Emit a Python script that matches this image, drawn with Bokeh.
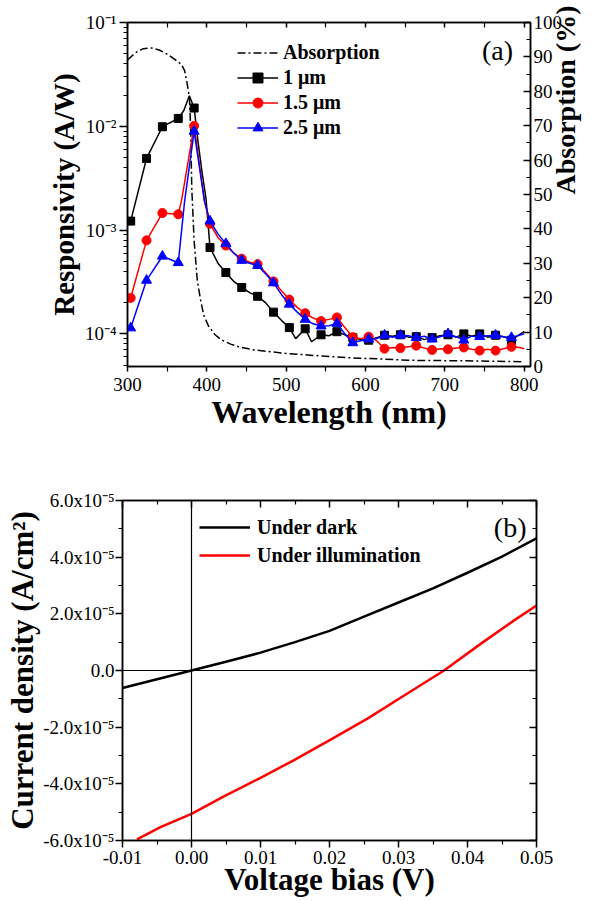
import math
from bokeh.plotting import figure
from bokeh.models import (Range1d, LinearAxis, FixedTicker, LogTicker, CustomJSTickFormatter,
                          Legend, LegendItem, Label, Span, LinearScale)
from bokeh.layouts import column, row
from bokeh.embed import file_html
from bokeh.resources import INLINE

FONT = "Liberation Serif"

# ---------------- data: panel (a) ----------------
wl_abs = [300, 310, 320, 330, 340, 350, 360, 368, 372, 375, 378, 379.5, 381, 382.5, 384,
          388, 392, 396, 402, 410, 418, 430, 442, 460, 480, 500, 530, 560, 592, 620, 655,
          700, 743, 800]
absorption = [89.1, 91.2, 92.4, 92.6, 92.0, 90.8, 89.2, 87.8, 86.0, 82.5, 78.2, 70.0, 52.0,
              44.0, 36.5, 25.0, 19.5, 15.0, 11.8, 9.3, 7.8, 6.5, 5.6, 4.8, 4.3, 3.8, 3.3,
              2.8, 2.4, 2.2, 1.8, 1.7, 1.6, 1.4]

wl_1um = [304, 324, 344, 364, 371, 378, 384, 389, 394, 399, 404, 414, 424, 434, 444, 454,
          464, 474, 484, 494, 504, 512, 524, 532, 544, 554, 564, 574, 584, 594, 604, 614,
          624, 634, 644, 654, 664, 674, 684, 694, 704, 714, 724, 734, 744, 754, 764, 774,
          784, 792, 800]
resp_1um = [1.22e-3, 4.9e-3, 9.9e-3, 1.19e-2, 1.42e-2, 1.97e-2, 1.5e-2, 7.0e-3, 3.6e-3,
            2.0e-3, 6.8e-4, 4.8e-4, 3.9e-4, 3.2e-4, 2.8e-4, 2.5e-4, 2.3e-4, 2.0e-4, 1.62e-4,
            1.35e-4, 1.15e-4, 9.0e-5, 1.12e-4, 8.4e-5, 9.8e-5, 9.6e-5, 1.05e-4, 9.8e-5,
            9.2e-5, 8.8e-5, 8.7e-5, 9.2e-5, 9.7e-5, 9.5e-5, 9.8e-5, 9.3e-5, 9.4e-5, 8.8e-5,
            9.2e-5, 9.6e-5, 9.8e-5, 9.3e-5, 1.0e-4, 9.5e-5, 1.0e-4, 9.3e-5, 9.7e-5, 9.4e-5,
            8.7e-5, 9.6e-5, 1.05e-4]

wl_15um = [304, 324, 344, 364, 368, 384, 397, 404, 414, 424, 434, 444, 454, 464, 474, 484,
           494, 504, 514, 524, 534, 544, 554, 564, 574, 584, 594, 604, 614, 624, 634, 644,
           654, 664, 674, 684, 694, 704, 714, 724, 734, 744, 754, 764, 774, 784, 794, 800]
resp_15um = [2.22e-4, 7.96e-4, 1.46e-3, 1.42e-3, 1.9e-3, 1.01e-2, 1.9e-3, 1.15e-3, 8.5e-4,
             7.1e-4, 6.0e-4, 5.3e-4, 4.9e-4, 4.7e-4, 3.9e-4, 3.2e-4, 2.6e-4, 2.14e-4,
             1.8e-4, 1.58e-4, 1.42e-4, 1.33e-4, 1.38e-4, 1.44e-4, 1.15e-4, 9.3e-5, 9.0e-5,
             9.4e-5, 8.6e-5, 7.2e-5, 7.4e-5, 7.3e-5, 7.5e-5, 7.7e-5, 7.3e-5, 7.0e-5, 7.2e-5,
             7.1e-5, 7.3e-5, 7.4e-5, 7.1e-5, 6.9e-5, 7.1e-5, 6.9e-5, 7.2e-5, 7.5e-5, 7.4e-5,
             7.2e-5]

wl_25um = [304, 324, 344, 364, 372, 384, 397, 404, 414, 424, 434, 444, 454, 464, 474, 484,
           494, 504, 514, 524, 534, 544, 554, 564, 574, 584, 594, 604, 614, 624, 634, 644,
           654, 664, 674, 684, 694, 704, 714, 724, 734, 744, 754, 764, 774, 784, 794, 800]
resp_25um = [1.14e-4, 3.28e-4, 5.6e-4, 4.85e-4, 1.9e-3, 8.95e-3, 1.9e-3, 1.22e-3, 9.2e-4,
             7.4e-4, 6.0e-4, 5.1e-4, 4.8e-4, 4.55e-4, 3.8e-4, 3.1e-4, 2.4e-4, 1.93e-4,
             1.62e-4, 1.38e-4, 1.25e-4, 1.19e-4, 1.2e-4, 1.26e-4, 1.0e-4, 8.2e-5, 8.6e-5,
             8.9e-5, 9.0e-5, 9.7e-5, 9.3e-5, 9.7e-5, 9.6e-5, 9.2e-5, 9.5e-5, 8.9e-5, 9.4e-5,
             1.0e-4, 9.4e-5, 8.7e-5, 9.5e-5, 9.4e-5, 9.6e-5, 9.7e-5, 9.4e-5, 9.2e-5, 9.7e-5,
             1.0e-4]

marker_first, marker_step, marker_last = 304, 20, 784

x_ticks_a = [300, 400, 500, 600, 700, 800]
x_minor_a = [350, 450, 550, 650, 750]
abs_ticks = [0, 10, 20, 30, 40, 50, 60, 70, 80, 90, 100]
abs_minor = [5, 15, 25, 35, 45, 55, 65, 75, 85, 95]

legend_a = ["Absorption", "1 \u03bcm", "1.5 \u03bcm", "2.5 \u03bcm"]

# ---------------- data: panel (b) ----------------
v_dark = [-0.01, -0.005, 0.0, 0.005, 0.01, 0.015, 0.02, 0.025, 0.03, 0.035, 0.04, 0.045, 0.05]
j_dark = [-0.62e-5, -0.31e-5, 0.0, 0.31e-5, 0.63e-5, 1.0e-5, 1.4e-5, 1.9e-5, 2.4e-5, 2.9e-5,
          3.45e-5, 4.02e-5, 4.66e-5]
v_ill = [-0.0079, -0.0045, 0.0, 0.0047, 0.010, 0.0148, 0.0201, 0.0255, 0.0303, 0.0366,
         0.0419, 0.0467, 0.05]
j_ill = [-5.96e-5, -5.53e-5, -5.06e-5, -4.44e-5, -3.79e-5, -3.17e-5, -2.45e-5, -1.70e-5,
         -0.96e-5, 0.0, 0.94e-5, 1.76e-5, 2.29e-5]

x_ticks_b = [-0.01, 0.0, 0.01, 0.02, 0.03, 0.04, 0.05]
x_minor_b = [-0.005, 0.005, 0.015, 0.025, 0.035, 0.045]
y_ticks_b = [-6e-5, -4e-5, -2e-5, 0.0, 2e-5, 4e-5, 6e-5]
y_minor_b = [-5e-5, -3e-5, -1e-5, 1e-5, 3e-5, 5e-5]

legend_b = ["Under dark", "Under illumination"]


def style_axis(ax, title_size="27px"):
    ax.axis_line_color = "black"
    ax.axis_line_width = 1.5
    ax.major_tick_line_color = "black"
    ax.major_tick_line_width = 1.5
    ax.minor_tick_line_color = "black"
    ax.minor_tick_line_width = 1.2
    ax.major_label_text_font = FONT
    ax.major_label_text_font_size = "19px"
    ax.major_label_text_color = "black"
    ax.axis_label_text_font = FONT
    ax.axis_label_text_font_style = "bold"
    ax.axis_label_text_font_size = title_size
    ax.axis_label_text_color = "black"


def mirror(ax):
    style_axis(ax)
    ax.formatter = CustomJSTickFormatter(code="return '';")
    ax.major_label_text_font_size = "0px"
    ax.major_label_standoff = 0
    ax.major_tick_out = 0
    ax.minor_tick_out = 0


def markers(wl, r):
    xs, ys = [], []
    for w, v in zip(wl, r):
        if marker_first <= w <= marker_last and (w - marker_first) % marker_step == 0:
            xs.append(w)
            ys.append(v)
    return xs, ys


# ---------------- panel (a) ----------------
p1 = figure(width=600, height=436, title=None, x_range=Range1d(300, 808),
            y_range=Range1d(4.85e-5, 0.1), y_axis_type="log",
            output_backend="svg", toolbar_location=None,
            min_border_left=127, min_border_right=70, min_border_top=22, min_border_bottom=70)
p1.grid.visible = False
p1.outline_line_color = "black"
p1.outline_line_width = 1.5
p1.extra_y_ranges = {"abs": Range1d(0, 100)}
p1.extra_y_scales = {"abs": LinearScale()}

xa = p1.xaxis[0]
style_axis(xa, "32px")
xa.ticker = FixedTicker(ticks=x_ticks_a, minor_ticks=x_minor_a)
xa.axis_label = "Wavelength (nm)"
xa.major_tick_out = 5
xa.major_tick_in = 0
xa.minor_tick_out = 5
xa.minor_tick_in = 0
xa.major_label_standoff = 6
xa.axis_label_standoff = 0

ya = p1.yaxis[0]
style_axis(ya, "29px")
ya.ticker = LogTicker(num_minor_ticks=10)
ya.formatter = CustomJSTickFormatter(code="""
const sup = {"-":"\u207b","0":"\u2070","1":"\u00b9","2":"\u00b2","3":"\u00b3","4":"\u2074",
             "5":"\u2075","6":"\u2076","7":"\u2077","8":"\u2078","9":"\u2079"};
const e = Math.round(Math.log10(tick));
return "10" + String(e).split("").map(c => sup[c]).join("");
""")
ya.axis_label = "Responsivity (A/W)"
ya.major_tick_out = 8
ya.major_tick_in = 0
ya.minor_tick_out = 4
ya.minor_tick_in = 0
ya.major_label_standoff = 3
ya.axis_label_standoff = 2

top_a = LinearAxis(ticker=FixedTicker(ticks=x_ticks_a, minor_ticks=x_minor_a))
mirror(top_a)
top_a.major_tick_in = 5
top_a.minor_tick_in = 5
p1.add_layout(top_a, "above")

right_a = LinearAxis(y_range_name="abs", ticker=FixedTicker(ticks=abs_ticks, minor_ticks=abs_minor),
                     axis_label="Absorption (%)")
style_axis(right_a, "28px")
right_a.major_tick_in = 7
right_a.major_tick_out = 0
right_a.minor_tick_in = 4
right_a.minor_tick_out = 0
right_a.major_label_standoff = 3
right_a.axis_label_standoff = 0
right_a.axis_label_orientation = math.pi / 2
right_a.axis_label_text_align = "center"
p1.add_layout(right_a, "right")

r_abs = p1.line(wl_abs, absorption, y_range_name="abs", line_color="black", line_width=1.5,
                line_dash="8 3 2 3")
r1l = p1.line(wl_1um, resp_1um, line_color="black", line_width=1.5)
mx, my = markers(wl_1um, resp_1um)
r1m = p1.scatter(mx, my, marker="square", size=8, fill_color="black", line_color="black")
r2l = p1.line(wl_15um, resp_15um, line_color="#ff0000", line_width=1.5)
mx, my = markers(wl_15um, resp_15um)
r2m = p1.scatter(mx, my, marker="circle", size=9, fill_color="#ff0000", line_color="#ff0000")
r3l = p1.line(wl_25um, resp_25um, line_color="#0000ff", line_width=1.5)
mx, my = markers(wl_25um, resp_25um)
r3m = p1.scatter(mx, my, marker="triangle", size=10, fill_color="#0000ff", line_color="#0000ff")

leg_a = Legend(items=[LegendItem(label=legend_a[0], renderers=[r_abs]),
                      LegendItem(label=legend_a[1], renderers=[r1l, r1m]),
                      LegendItem(label=legend_a[2], renderers=[r2l, r2m]),
                      LegendItem(label=legend_a[3], renderers=[r3l, r3m])],
               location=(110, 226))
leg_a.label_text_font = FONT
leg_a.label_text_font_style = "bold"
leg_a.label_text_font_size = "20px"
leg_a.label_text_color = "black"
leg_a.glyph_width = 41
leg_a.glyph_height = 25
leg_a.label_height = 25
leg_a.label_standoff = 5
leg_a.spacing = 0
leg_a.padding = 0
leg_a.margin = 0
leg_a.background_fill_alpha = 0
leg_a.border_line_alpha = 0
p1.add_layout(leg_a)

p1.add_layout(Label(x=786, y=0.0538, text="(a)", text_font=FONT, text_font_size="28px",
                    text_align="right", text_baseline="middle", text_color="black"))

# ---------------- panel (b) ----------------
p2 = figure(width=600, height=465, title=None, x_range=Range1d(-0.01, 0.05),
            y_range=Range1d(-6e-5, 6e-5), output_backend="svg", toolbar_location=None,
            min_border_left=122, min_border_right=64, min_border_top=64, min_border_bottom=61)
p2.grid.visible = False
p2.outline_line_color = "black"
p2.outline_line_width = 1.5

xb = p2.xaxis[0]
style_axis(xb, "31px")
xb.ticker = FixedTicker(ticks=x_ticks_b, minor_ticks=x_minor_b)
xb.formatter = CustomJSTickFormatter(code="""
if (Math.abs(tick) < 1e-9) return "0.00";
return tick.toFixed(2);
""")
xb.axis_label = "Voltage bias (V)"
xb.major_tick_out = 7
xb.major_tick_in = 0
xb.minor_tick_out = 4
xb.minor_tick_in = 0
xb.major_label_standoff = 3
xb.axis_label_standoff = -5

yb = p2.yaxis[0]
style_axis(yb, "31px")
yb.ticker = FixedTicker(ticks=y_ticks_b, minor_ticks=y_minor_b)
yb.formatter = CustomJSTickFormatter(code="""
const m = Math.round(tick / 1e-5 * 10) / 10;
if (Math.abs(m) < 1e-9) return "0.0";
return m.toFixed(1) + "x10\u207b\u2075";
""")
yb.axis_label = "Current density (A/cm\u00b2)"
yb.major_tick_out = 7
yb.major_tick_in = 0
yb.minor_tick_out = 4
yb.minor_tick_in = 0
yb.major_label_standoff = 1
yb.axis_label_standoff = 0

top_b = LinearAxis(ticker=FixedTicker(ticks=x_ticks_b, minor_ticks=x_minor_b))
mirror(top_b)
top_b.major_tick_in = 7
top_b.minor_tick_in = 4
p2.add_layout(top_b, "above")

right_b = LinearAxis(ticker=FixedTicker(ticks=y_ticks_b, minor_ticks=y_minor_b))
mirror(right_b)
right_b.major_tick_in = 7
right_b.minor_tick_in = 4
p2.add_layout(right_b, "right")

p2.add_layout(Span(location=0, dimension="height", line_color="black", line_width=1.2))
p2.add_layout(Span(location=0, dimension="width", line_color="black", line_width=1.2))

rd = p2.line(v_dark, j_dark, line_color="black", line_width=2.5)
ri = p2.line(v_ill, j_ill, line_color="#ff0000", line_width=2.5)

leg_b = Legend(items=[LegendItem(label=legend_b[0], renderers=[rd]),
                      LegendItem(label=legend_b[1], renderers=[ri])],
               location=(77, 271))
leg_b.label_text_font = FONT
leg_b.label_text_font_style = "bold"
leg_b.label_text_font_size = "20px"
leg_b.label_text_color = "black"
leg_b.glyph_width = 51
leg_b.glyph_height = 28
leg_b.label_height = 28
leg_b.label_standoff = 7
leg_b.spacing = 0
leg_b.padding = 0
leg_b.margin = 0
leg_b.background_fill_alpha = 0
leg_b.border_line_alpha = 0
p2.add_layout(leg_b)

p2.add_layout(Label(x=0.04855, y=5.04e-5, text="(b)", text_font=FONT, text_font_size="28px",
                    text_align="right", text_baseline="middle", text_color="black"))

layout = column(row(p1), row(p2))
open("out.html", "w").write(file_html(layout, INLINE))
